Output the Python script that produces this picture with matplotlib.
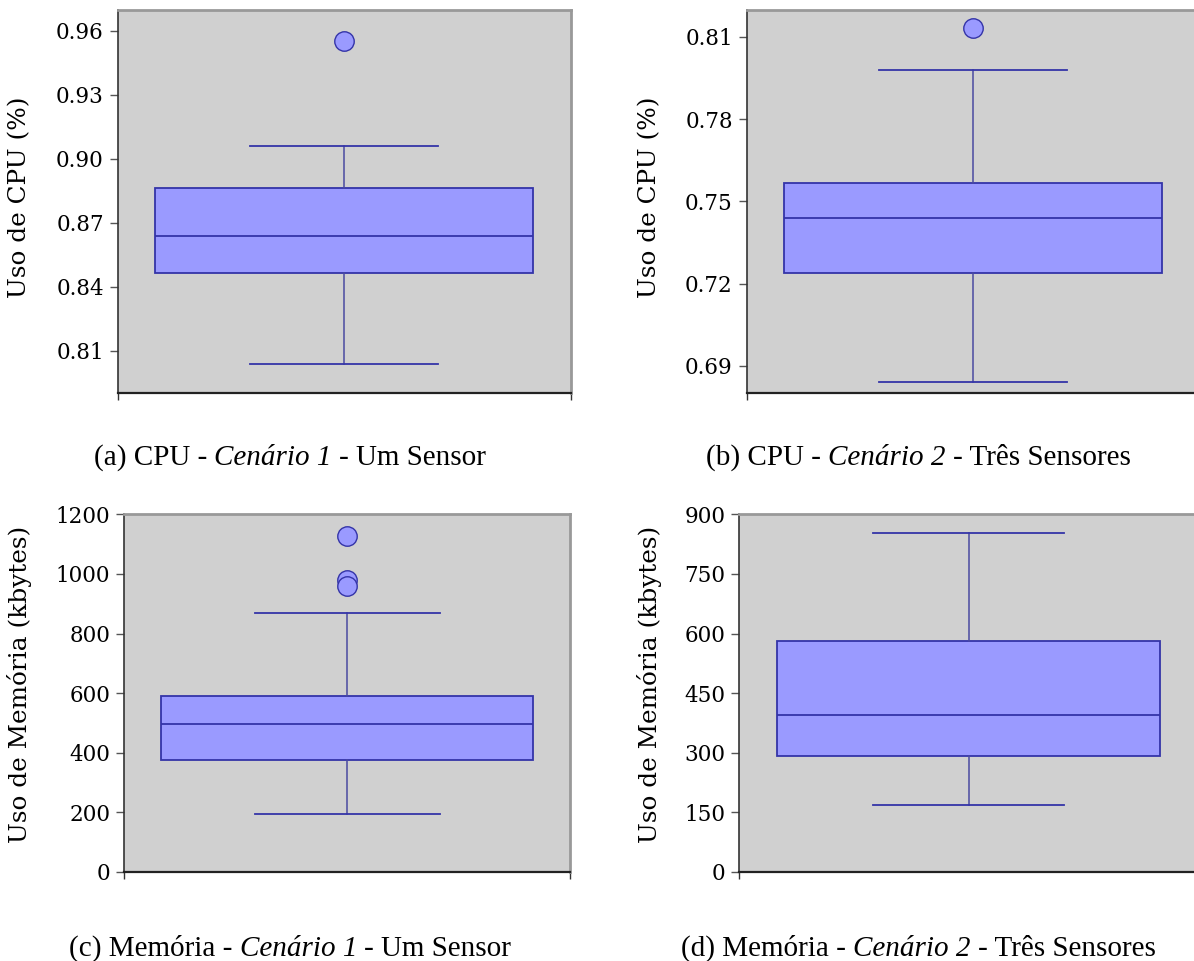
import matplotlib.pyplot as plt

W, H = 1194, 961

# box statistics
q1 = [0.8464, 0.7237, 377, 291]
med = [0.8638, 0.7441, 496, 396]
q3 = [0.8864, 0.7567, 589, 580]
whislo = [0.8036, 0.6840, 194, 169]
whishi = [0.9058, 0.7980, 868, 852]
fliers = [[0.9553], [0.8133], [1127, 980, 960], []]

ylims = [(0.79, 0.97), (0.68, 0.82), (0, 1200), (0, 900)]
yticks = [[0.81, 0.84, 0.87, 0.90, 0.93, 0.96],
          [0.69, 0.72, 0.75, 0.78, 0.81],
          [0, 200, 400, 600, 800, 1000, 1200],
          [0, 150, 300, 450, 600, 750, 900]]
ytick_fmt = ['{:.2f}', '{:.2f}', '{:d}', '{:d}']
ylabels = ['Uso de CPU (%)', 'Uso de CPU (%)',
           'Uso de Memória (kbytes)', 'Uso de Memória (kbytes)']
captions = [('(a) CPU -', 'Cenário 1', '- Um Sensor'),
            ('(b) CPU -', 'Cenário 2', '- Três Sensores'),
            ('(c) Memória -', 'Cenário 1', '- Um Sensor'),
            ('(d) Memória -', 'Cenário 2', '- Três Sensores')]

# layout in pixels: left, top, width, height
rects = [(117.7, 9.5, 452.8, 383.8), (746.7, 9.5, 452.8, 383.8),
         (124.3, 514.3, 446.0, 357.7), (739.3, 514.3, 459.0, 357.7)]
label_pos = [(20, 197), (650, 197), (20, 684), (650, 684)]
caption_pos = [(290, 465), (918, 465), (290, 956), (918, 956)]

fill = '#9a9aff'
edge = '#3434a8'

fig = plt.figure(figsize=(W / 100, H / 100), dpi=100)

for i in range(4):
    l, t, w, h = rects[i]
    ax = fig.add_axes([l / W, 1 - (t + h) / H, w / W, h / H])
    ax.set_facecolor('#d0d0d0')
    stats = [dict(q1=q1[i], med=med[i], q3=q3[i], whislo=whislo[i],
                  whishi=whishi[i], fliers=fliers[i])]
    ax.bxp(stats, positions=[0], widths=0.834, capwidths=0.416,
           patch_artist=True,
           boxprops=dict(facecolor=fill, edgecolor=edge, linewidth=1.3),
           medianprops=dict(color=edge, linewidth=1.3),
           whiskerprops=dict(color='#4a4aa0', linewidth=1.1),
           capprops=dict(color=edge, linewidth=1.3),
           flierprops=dict(marker='o', markersize=14, markerfacecolor=fill,
                           markeredgecolor=edge, markeredgewidth=1.0))
    ax.set_xlim(-0.5, 0.5)
    ax.set_ylim(*ylims[i])
    ax.set_yticks(yticks[i])
    ax.set_yticklabels([ytick_fmt[i].format(v) for v in yticks[i]],
                       family='DejaVu Serif', size=15.5)
    ax.set_xticks([-0.5, 0.5])
    ax.set_xticklabels(['', ''])
    ax.tick_params(axis='y', direction='out', length=6, width=1,
                   color='#555555', pad=4)
    ax.tick_params(axis='x', direction='out', length=5, width=1,
                   color='#333333')
    for s in ['top', 'right']:
        ax.spines[s].set_color('#999999')
        ax.spines[s].set_linewidth(2)
    ax.spines['left'].set_color('#333333')
    ax.spines['bottom'].set_color('#222222')
    ax.spines['left'].set_linewidth(1.2)
    ax.spines['bottom'].set_linewidth(1.6)

    lx, ly = label_pos[i]
    fig.text(lx / W, 1 - ly / H, ylabels[i], rotation=90, ha='center',
             va='center', family='DejaVu Serif', size=17.8)

# captions: normal - italic - normal, centred as a group
fig.canvas.draw()
r = fig.canvas.get_renderer()
gap = 21 * 0.25 * 100 / 72
for i in range(4):
    cx, cy = caption_pos[i]
    texts = []
    for j, part in enumerate(captions[i]):
        texts.append(fig.text(0, 1 - cy / H, part, family='Liberation Serif',
                              size=21, style='italic' if j == 1 else 'normal',
                              ha='left', va='baseline'))
    widths = [tx.get_window_extent(r).width for tx in texts]
    total = sum(widths) + gap * (len(texts) - 1)
    x = cx - total / 2
    for tx, wd in zip(texts, widths):
        tx.set_x(x / W)
        x += wd + gap

fig.savefig('out.png', dpi=100)
